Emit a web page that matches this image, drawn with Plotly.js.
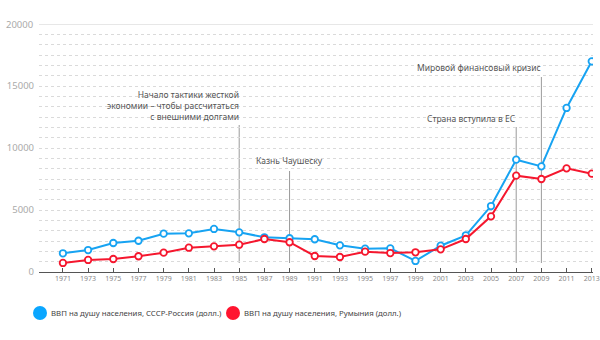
<!DOCTYPE html>
<html><head><meta charset="utf-8">
<script src="https://cdn.plot.ly/plotly-3.0.1.min.js"></script>
<style>html,body{margin:0;padding:0;background:#fff}#c{width:600px;height:340px}</style>
</head><body><div id="c"></div>
<script>
var years = [1971,1973,1975,1977,1979,1981,1983,1985,1987,1989,1991,1993,1995,1997,1999,2001,2003,2005,2007,2009,2011,2013];
var russia = [1510,1770,2340,2520,3090,3120,3470,3200,2800,2720,2640,2150,1880,1910,890,2120,2960,5320,9060,8520,13230,16990];
var romania = [730,970,1050,1270,1560,1960,2070,2200,2660,2400,1290,1210,1640,1530,1590,1830,2660,4490,7770,7500,8360,7930];
var seriesNames = ['ВВП на душу населения, СССР-Россия (долл.)','ВВП на душу населения, Румыния (долл.)'];
var eventYears = [1985, 1989, 2007, 2009];
var eventLabels = ['Начало тактики жесткой<br>экономии – чтобы рассчитаться<br>с внешними долгами','Казнь Чаушеску','Страна вступила в ЕС','Мировой финансовый кризис'];
var yTicks = [0,5000,10000,15000,20000];

var blue = '#17a3f2', red = '#f5172e';
var legCols = ['#0aa6ff', '#ff1530'];
var font = 'Noto Sans, sans-serif';
function tr(y, c){
  return {x: years, y: y, type:'scatter', mode:'lines+markers', showlegend:false, hoverinfo:'skip',
    line:{color:c, width:2}, marker:{symbol:'circle', size:6.5, color:'#fff', line:{color:c, width:1.8}}};
}
var eventTopPx = [125, 171, 127, 77];
var eventTextPx = [124, 168, 126, 75];
var eventAnchor = ['right','center','right','right'];
var pxToVal = function(p){ return (272 - p) / 248 * 20000; };
var shapes = [{type:'line', xref:'paper', yref:'y', x0:0, x1:1, y0:20000, y1:20000, line:{color:'#cfcfcf', width:1}}];
var ann = [];
eventYears.forEach(function(yr,i){
  shapes.push({type:'line', xref:'x', yref:'y', x0:yr, x1:yr, y0:pxToVal(263), y1:pxToVal(eventTopPx[i]), line:{color:'#9a9a9a', width:1}, layer:'below'});
  ann.push({xref:'x', yref:'y', x:yr, y:pxToVal(eventTextPx[i]), xanchor:eventAnchor[i], yanchor:'bottom', align:'right',
    text:eventLabels[i], showarrow:false, xshift: eventAnchor[i]==='right'?2:0, font:{family:font, size:8.5, color:'#555'}});
});
var legX = [40, 233], legTextX = [49, 242];
seriesNames.forEach(function(n,i){
  shapes.push({type:'circle', xref:'paper', yref:'paper', xsizemode:'pixel', ysizemode:'pixel',
    xanchor:(legX[i]-39)/554, yanchor:-(313-272)/248, x0:-7, x1:7, y0:-7, y1:7, fillcolor:legCols[i], line:{width:0}});
  ann.push({xref:'paper', yref:'paper', x:(legTextX[i]-39)/554, y:-(313-272)/248, xanchor:'left', yanchor:'middle', showarrow:false,
    text:n, font:{family:font, size:7.8, color:'#444'}});
});

Plotly.newPlot('c', [tr(russia, blue), tr(romania, red)], {
  width:600, height:340, margin:{l:39, r:7, t:24, b:68}, paper_bgcolor:'#fff', plot_bgcolor:'#fff',
  font:{family:font},
  xaxis:{range:[1969.1, 2013.1], tickvals:years, ticktext:years.map(String), tickfont:{size:7, color:'#888'}, ticklabeloverflow:'allow',
    showgrid:false, zeroline:false, showline:true, linecolor:'#555', linewidth:1, ticks:'inside', ticklen:4, tickcolor:'#555', fixedrange:true},
  yaxis:{range:[0,20000], tickvals:yTicks.slice(0,4), ticktext:yTicks.slice(0,4).map(String), tickfont:{size:9.5, color:'#aaa'},
    showgrid:true, gridcolor:'#dadada', griddash:'dot', gridwidth:1, zeroline:false, showline:false,
    minor:{dtick:5000/6, showgrid:true, gridcolor:'#dadada', griddash:'dot', gridwidth:1}, ticklabelstandoff:4, fixedrange:true},
  annotations: ann.concat([{xref:'paper', yref:'y', x:0, y:20000, xanchor:'right', yanchor:'middle', xshift:-4, showarrow:false, text:String(yTicks[4]), font:{family:font, size:9.5, color:'#aaa'}}]),
  shapes: shapes
}, {staticPlot:true});
</script></body></html>
